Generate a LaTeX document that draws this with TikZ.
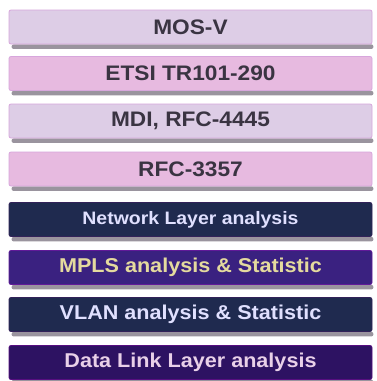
\documentclass[tikz,border=0pt]{standalone}
\usepackage{fontspec}
\setmainfont[FakeStretch=1.08]{Liberation Sans}
\usetikzlibrary{backgrounds}

\definecolor{lavbar}{HTML}{DDCDE6}
\definecolor{pinkbar}{HTML}{E7BAE0}
\definecolor{pinkedge}{HTML}{D7A6DC}
\definecolor{navybar}{HTML}{1F2A4F}
\definecolor{violetbar}{HTML}{3A2180}
\definecolor{plumbar}{HTML}{2D1262}
\definecolor{toptext}{HTML}{3A3442}
\definecolor{goldtext}{HTML}{E4DA9E}
\definecolor{rosetext}{HTML}{E8D0E8}
\definecolor{shadowgray}{HTML}{9A949E}

\begin{document}
\begin{tikzpicture}[
				x=1pt, y=-1pt,
				every node/.style={rectangle, rounded corners=2pt, inner sep=0pt,
					minimum width=363pt, minimum height=34pt, line width=.8pt,
					font=\bfseries\fontsize{20}{22}\selectfont},
				light/.style={fill=lavbar, draw=pinkedge, text=toptext, font=\bfseries\fontsize{21}{23}\selectfont},
				pink/.style={light, fill=pinkbar},
				dark/.style={fill=navybar, draw=navybar!80!violet, text=white!88!blue}
			]
			\useasboundingbox (0,0) rectangle (377,381);

			\node[light] (mos)   at (190.5, 27)    {MOS-V};
			\node[pink]  (etsi)  at (190.5, 73.5)  {ETSI TR101-290};
			\node[light] (mdi)   at (190.5, 121)   {MDI, RFC-4445};
			\node[pink]  (rfc)   at (190.5, 169)   {RFC-3357};

			\node[dark, font=\bfseries\fontsize{18}{20}\selectfont] (net) at (190.5, 219.5) {Network Layer analysis};
			\node[dark, fill=violetbar, draw=violetbar!80!magenta, text=goldtext] (mpls) at (190.5, 267.5) {MPLS analysis \& Statistic};
			\node[dark]  (vlan)  at (190.5, 314.5) {VLAN analysis \& Statistic};
			\node[dark, fill=plumbar, draw=plumbar!80!magenta, text=rosetext] (link) at (190.5, 362.5) {Data Link Layer analysis};

			% shadows under the bars
			\begin{pgfonlayer}{background}
				\fill[white] (0,0) rectangle (377,381);
				\foreach \bar in {mos, etsi, mdi, rfc, net, mpls, vlan, link}
					\fill[shadowgray, rounded corners=2pt]
						([shift={(3,0)}]\bar.south west) rectangle ([shift={(1,4.5)}]\bar.south east);
			\end{pgfonlayer}

		\end{tikzpicture}
\end{document}
